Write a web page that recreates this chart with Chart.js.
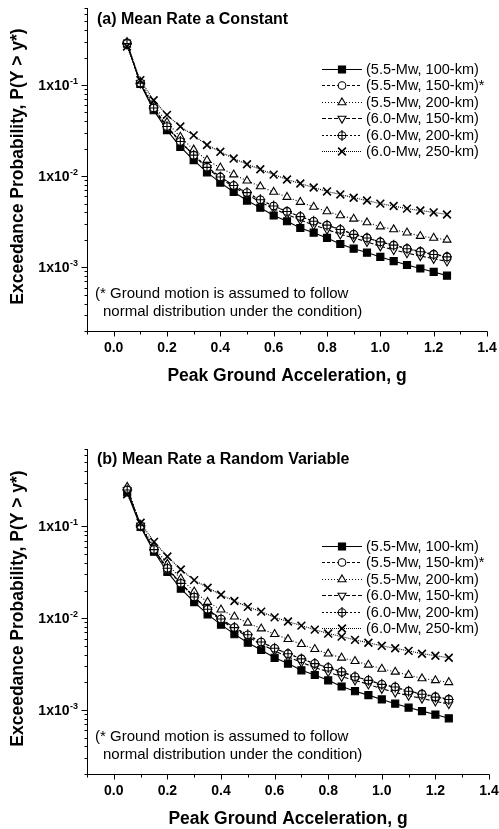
<!DOCTYPE html>
<html>
<head>
<meta charset="utf-8">
<script src="https://cdn.jsdelivr.net/npm/chart.js@4.4.1/dist/chart.umd.min.js"></script>
<style>
  html, body { margin: 0; padding: 0; background: #fff; }
  canvas { display: block; }
</style>
</head>
<body>
<canvas id="chartA" width="499" height="414" style="width:499px;height:414px"></canvas>
<canvas id="chartB" width="499" height="415" style="width:499px;height:415px"></canvas>
<script>
// --- Data ---
const pga = [0.05, 0.10, 0.15, 0.20, 0.25, 0.30, 0.35, 0.40, 0.45, 0.50, 0.55, 0.60, 0.65,
             0.70, 0.75, 0.80, 0.85, 0.90, 0.95, 1.00, 1.05, 1.10, 1.15, 1.20, 1.25];
const seriesNames = ['(5.5-Mw, 100-km)', '(5.5-Mw, 150-km)*', '(5.5-Mw, 200-km)',
                     '(6.0-Mw, 150-km)', '(6.0-Mw, 200-km)', '(6.0-Mw, 250-km)'];
const xTickValues = [0.0, 0.2, 0.4, 0.6, 0.8, 1.0, 1.2, 1.4];
const yTickValues = [1e-3, 1e-2, 1e-1];
const yTickExponents = ['-3', '-2', '-1'];

// (a) Mean rate a constant
const a_m55_100 = [0.285, 0.103, 0.053, 0.032, 0.021, 0.015, 0.011, 0.0085, 0.0067, 0.0054, 0.0045, 0.0037, 0.0032,
                   0.0027, 0.0024, 0.0021, 0.0018, 0.0016, 0.00145, 0.0013, 0.00117, 0.00106, 0.00097, 0.00089, 0.00081];
const a_m55_150 = [0.29, 0.104, 0.055, 0.034, 0.024, 0.017, 0.0126, 0.0098, 0.0079, 0.0065, 0.0055, 0.0047, 0.0041,
                   0.0036, 0.0032, 0.0029, 0.0026, 0.0023, 0.0021, 0.0019, 0.00175, 0.0016, 0.0015, 0.0014, 0.00131];
const a_m55_200 = [0.295, 0.108, 0.06, 0.039, 0.027, 0.0195, 0.015, 0.0124, 0.0104, 0.0089, 0.0077, 0.0067, 0.0059,
                   0.0052, 0.0046, 0.0041, 0.0037, 0.0034, 0.0031, 0.0028, 0.0026, 0.0024, 0.0022, 0.0021, 0.002];
const a_m60_150 = [0.28, 0.105, 0.056, 0.035, 0.024, 0.017, 0.0123, 0.0095, 0.0076, 0.0063, 0.0052, 0.0044, 0.0038,
                   0.0033, 0.0029, 0.0026, 0.0023, 0.0021, 0.0019, 0.0017, 0.00155, 0.00143, 0.00133, 0.00124, 0.00116];
const a_m60_200 = [0.285, 0.105, 0.056, 0.035, 0.024, 0.017, 0.0125, 0.0098, 0.0079, 0.0066, 0.0055, 0.0047, 0.0041,
                   0.0036, 0.0032, 0.0029, 0.0026, 0.0023, 0.0021, 0.0019, 0.00175, 0.0016, 0.00148, 0.00138, 0.0013];
const a_m60_250 = [0.265, 0.113, 0.068, 0.047, 0.035, 0.028, 0.022, 0.0185, 0.0156, 0.0135, 0.0119, 0.0104, 0.0092,
                   0.0083, 0.0075, 0.0068, 0.0063, 0.0058, 0.0054, 0.005, 0.0047, 0.0044, 0.0042, 0.004, 0.0038];

// (b) Mean rate a random variable
const b_m55_100 = [0.235, 0.099, 0.053, 0.032, 0.021, 0.015, 0.011, 0.0085, 0.0067, 0.0054, 0.0045, 0.0037, 0.0032,
                   0.0027, 0.0024, 0.0021, 0.0018, 0.0016, 0.00145, 0.0013, 0.00117, 0.00106, 0.00097, 0.00089, 0.00081];
const b_m55_150 = [0.255, 0.101, 0.055, 0.034, 0.024, 0.017, 0.0126, 0.0098, 0.0079, 0.0065, 0.0055, 0.0047, 0.0041,
                   0.0036, 0.0032, 0.0029, 0.0026, 0.0023, 0.0021, 0.0019, 0.00175, 0.0016, 0.0015, 0.0014, 0.00131];
const b_m55_200 = [0.27, 0.104, 0.06, 0.039, 0.027, 0.0195, 0.015, 0.0124, 0.0104, 0.0089, 0.0077, 0.0067, 0.0059,
                   0.0052, 0.0046, 0.0041, 0.0037, 0.0034, 0.0031, 0.0028, 0.0026, 0.0024, 0.0022, 0.0021, 0.002];
const b_m60_150 = [0.25, 0.102, 0.056, 0.035, 0.024, 0.017, 0.0123, 0.0095, 0.0076, 0.0063, 0.0052, 0.0044, 0.0038,
                   0.0033, 0.0029, 0.0026, 0.0023, 0.0021, 0.0019, 0.0017, 0.00155, 0.00143, 0.00133, 0.00124, 0.00116];
const b_m60_200 = [0.25, 0.102, 0.056, 0.035, 0.024, 0.017, 0.0125, 0.0098, 0.0079, 0.0066, 0.0055, 0.0047, 0.0041,
                   0.0036, 0.0032, 0.0029, 0.0026, 0.0023, 0.0021, 0.0019, 0.00178, 0.0016, 0.00148, 0.00138, 0.0013];
const b_m60_250 = [0.225, 0.11, 0.068, 0.047, 0.034, 0.026, 0.0215, 0.018, 0.0154, 0.0133, 0.0118, 0.0102, 0.0092,
                   0.0083, 0.0075, 0.0068, 0.0063, 0.0058, 0.0054, 0.005, 0.0047, 0.0044, 0.0041, 0.0039, 0.0037];

const FONT = '"Liberation Sans", Arial, sans-serif';

// marker look per series (square, circle, triangle, down triangle, circle-plus, X)
const markerStyles = [
  { pointStyle: 'rect', radius: 5, rotation: 0, fill: '#000', plus: false, width: 1.1 },
  { pointStyle: 'circle', radius: 3.8, rotation: 0, fill: '#fff', plus: false, width: 1.1 },
  { pointStyle: 'triangle', radius: 4.6, rotation: 0, fill: '#fff', plus: false, width: 1.1 },
  { pointStyle: 'triangle', radius: 4.6, rotation: 180, fill: '#fff', plus: false, width: 1.1 },
  { pointStyle: 'circle', radius: 3.8, rotation: 0, fill: '#fff', plus: true, width: 1.1 },
  { pointStyle: 'crossRot', radius: 5.5, rotation: 0, fill: '#fff', plus: false, width: 1.6 }
];
const dashes = [[], [3, 2], [1, 2], [4, 2], [2, 2], [1, 1]];

function buildDatasets(seriesList) {
  return seriesList.map((vals, i) => ({
    label: seriesNames[i],
    data: vals.map((v, j) => ({ x: pga[j], y: v })),
    borderColor: '#000',
    borderWidth: 1.1,
    borderDash: dashes[i],
    pointStyle: markerStyles[i].pointStyle,
    pointRotation: markerStyles[i].rotation,
    pointRadius: markerStyles[i].radius,
    pointBackgroundColor: markerStyles[i].fill,
    pointBorderColor: '#000',
    pointBorderWidth: markerStyles[i].width,
    plusOverlay: markerStyles[i].plus,
    fill: false,
    tension: 0
  })).reverse();
}

function drawPlus(ctx, x, y) {
  ctx.beginPath();
  ctx.moveTo(x, y - 5.5); ctx.lineTo(x, y + 5.5);
  ctx.moveTo(x - 5, y); ctx.lineTo(x + 5, y);
  ctx.stroke();
}

function drawMarker(ctx, i, x, y) {
  const s = markerStyles[i];
  ctx.save();
  ctx.setLineDash([]);
  ctx.fillStyle = s.fill;
  ctx.strokeStyle = '#000';
  ctx.lineWidth = s.width;
  Chart.helpers.drawPoint(ctx, { pointStyle: s.pointStyle, rotation: s.rotation, radius: s.radius, borderWidth: s.width }, x, y);
  if (s.plus) drawPlus(ctx, x, y);
  ctx.restore();
}

// --- Axes, labels, legend and notes ---
const decorPlugin = {
  id: 'decor',
  afterDatasetsDraw(chart) {
    const ctx = chart.ctx;
    ctx.save();
    ctx.strokeStyle = '#000';
    ctx.lineWidth = 1.1;
    ctx.setLineDash([]);
    chart.data.datasets.forEach((ds, di) => {
      if (!ds.plusOverlay) return;
      chart.getDatasetMeta(di).data.forEach(pt => drawPlus(ctx, pt.x, pt.y));
    });
    ctx.restore();
  },
  afterDraw(chart, args, opts) {
    const ctx = chart.ctx;
    const xs = chart.scales.x, ys = chart.scales.y;
    const area = chart.chartArea;
    ctx.save();
    ctx.strokeStyle = '#000';
    ctx.fillStyle = '#000';
    ctx.lineWidth = 1;
    ctx.setLineDash([]);

    // axis lines
    const ax = Math.round(area.left) + 0.5, ay = Math.round(area.bottom) + 0.5;
    ctx.beginPath();
    ctx.moveTo(ax, area.top); ctx.lineTo(ax, ay); ctx.lineTo(area.right + 0.5, ay);
    ctx.stroke();

    // x ticks
    ctx.beginPath();
    for (let v = -0.1; v <= 1.4001; v += 0.1) {
      const px = Math.round(xs.getPixelForValue(v)) + 0.5;
      const major = Math.abs(Math.round(v * 10) % 2) === 0;
      ctx.moveTo(px, ay); ctx.lineTo(px, ay + (major ? 5 : 3));
    }
    // y ticks
    for (let e = -4; e <= 0; e++) {
      for (let k = 1; k <= 9; k++) {
        const v = k * Math.pow(10, e);
        if (v < ys.min * 0.999 || v > ys.max * 1.001) continue;
        const py = Math.round(ys.getPixelForValue(v)) + 0.5;
        ctx.moveTo(ax, py); ctx.lineTo(ax - (k === 1 ? 6 : 3), py);
      }
    }
    ctx.stroke();

    // x tick labels
    ctx.font = 'bold 14px ' + FONT;
    ctx.textAlign = 'center';
    ctx.textBaseline = 'middle';
    xTickValues.forEach(v => {
      ctx.fillText(v.toFixed(1), xs.getPixelForValue(v), ay + 17);
    });

    // y tick labels with superscript
    yTickValues.forEach((v, i) => {
      const py = ys.getPixelForValue(v);
      ctx.font = 'bold 9px ' + FONT;
      ctx.textAlign = 'right';
      ctx.textBaseline = 'alphabetic';
      const supW = ctx.measureText(yTickExponents[i]).width;
      ctx.fillText(yTickExponents[i], 78, py - 1);
      ctx.font = 'bold 14px ' + FONT;
      ctx.fillText('1x10', 78 - supW - 0.5, py + 5);
    });

    // axis titles
    ctx.font = 'bold 17.5px ' + FONT;
    ctx.textAlign = 'center';
    ctx.textBaseline = 'middle';
    ctx.fillText('Peak Ground Acceleration, g', (area.left + area.right) / 2, ay + 45);
    ctx.save();
    ctx.translate(18, (area.top + area.bottom) / 2 - 3);
    ctx.rotate(-Math.PI / 2);
    ctx.fillText('Exceedance Probability, P(Y > y*)', 0, 0);
    ctx.restore();

    // panel title
    ctx.font = 'bold 16px ' + FONT;
    ctx.textAlign = 'left';
    ctx.fillText(opts.title, 97, area.top + opts.titleOffset);

    // notes
    ctx.font = '15px ' + FONT;
    ctx.fillText('(* Ground motion is assumed to follow', 95, ay - 38);
    ctx.fillText('normal distribution under the condition)', 103, ay - 20);

    // legend
    seriesNames.forEach((name, i) => {
      const y = Math.round(area.top + opts.legendOffset + i * 16.4) + 0.5;
      ctx.setLineDash(dashes[i]);
      ctx.beginPath(); ctx.moveTo(322, y); ctx.lineTo(362, y); ctx.stroke();
      drawMarker(ctx, i, 342, y);
      ctx.font = '14.5px ' + FONT;
      ctx.fillStyle = '#000';
      ctx.textAlign = 'left';
      ctx.textBaseline = 'middle';
      ctx.fillText(name, 366, y);
    });
    ctx.restore();
  }
};

function makePanel(canvasId, seriesList, opts) {
  const ctx = document.getElementById(canvasId).getContext('2d');
  return new Chart(ctx, {
    type: 'line',
    data: { datasets: buildDatasets(seriesList) },
    options: {
      responsive: false,
      animation: false,
      layout: { padding: opts.padding },
      scales: {
        x: { type: 'linear', min: -0.1, max: 1.4, display: false },
        y: { type: 'logarithmic', min: 2e-4, max: 0.7, display: false }
      },
      plugins: {
        legend: { display: false },
        tooltip: { enabled: false },
        decor: { title: opts.title, titleOffset: opts.titleOffset, legendOffset: opts.legendOffset }
      }
    },
    plugins: [decorPlugin]
  });
}

makePanel('chartA', [a_m55_100, a_m55_150, a_m55_200, a_m60_150, a_m60_200, a_m60_250], {
  title: '(a) Mean Rate a Constant',
  padding: { left: 87, top: 8, right: 12, bottom: 83 },
  titleOffset: 12,
  legendOffset: 61
});

makePanel('chartB', [b_m55_100, b_m55_150, b_m55_200, b_m60_150, b_m60_200, b_m60_250], {
  title: '(b) Mean Rate a Random Variable',
  padding: { left: 87, top: 35, right: 10, bottom: 55 },
  titleOffset: 11,
  legendOffset: 97
});
</script>
</body>
</html>
